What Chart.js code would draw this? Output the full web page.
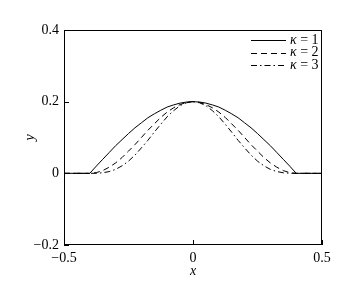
<!DOCTYPE html>
<html>
<head>
<meta charset="utf-8">
<script src="https://cdn.jsdelivr.net/npm/chart.js@4.4.1/dist/chart.umd.min.js"></script>
<style>
  html, body { margin: 0; padding: 0; background: #fff; }
  #wrap { width: 353px; height: 283px; }
</style>
</head>
<body>
<div id="wrap"><canvas id="profileChart"></canvas></div>
<script>
// x positions and profile heights
const xs = [-0.5, -0.4, -0.375, -0.35, -0.325, -0.3, -0.275, -0.25, -0.225, -0.2,
            -0.175, -0.15, -0.125, -0.1, -0.075, -0.05, -0.025, 0,
            0.025, 0.05, 0.075, 0.1, 0.125, 0.15, 0.175, 0.2,
            0.225, 0.25, 0.275, 0.3, 0.325, 0.35, 0.375, 0.4, 0.5];
const kappa1 = [0, 0, 0.020, 0.039, 0.058, 0.077, 0.094, 0.111, 0.127, 0.141,
                0.155, 0.166, 0.176, 0.185, 0.191, 0.196, 0.199, 0.2,
                0.199, 0.196, 0.191, 0.185, 0.176, 0.166, 0.155, 0.141,
                0.127, 0.111, 0.094, 0.077, 0.058, 0.039, 0.020, 0, 0];
const kappa2 = [0, 0, 0.0019, 0.0076, 0.017, 0.029, 0.044, 0.062, 0.080, 0.1,
                0.120, 0.138, 0.156, 0.171, 0.183, 0.192, 0.198, 0.2,
                0.198, 0.192, 0.183, 0.171, 0.156, 0.138, 0.120, 0.1,
                0.080, 0.062, 0.044, 0.029, 0.017, 0.0076, 0.0019, 0, 0];
const kappa3 = [0, 0, 0.0002, 0.0015, 0.0049, 0.011, 0.021, 0.034, 0.051, 0.071,
                0.092, 0.115, 0.137, 0.158, 0.175, 0.189, 0.197, 0.2,
                0.197, 0.189, 0.175, 0.158, 0.137, 0.115, 0.092, 0.071,
                0.051, 0.034, 0.021, 0.011, 0.0049, 0.0015, 0.0002, 0, 0];
const seriesNames = ['1', '2', '3'];
const xTicks = [-0.5, 0, 0.5];
const yTicks = [-0.2, 0, 0.2, 0.4];

const serif = "'Liberation Serif', 'DejaVu Serif', serif";
const dashes = [[], [6, 4], [6, 3, 1.5, 3]];

function toPoints(ys) {
    return xs.map((x, i) => ({ x: x, y: ys[i] }));
}

function fmt(v) {
    const s = Math.abs(v) < 1e-9 ? '0' : String(Number(v.toFixed(1)));
    return s.replace('-', '\u2212');
}

// frame, inward ticks and the legend
const framePlugin = {
    id: 'frame',
    afterDraw(chart) {
        const ctx = chart.ctx;
        const a = chart.chartArea;
        const xs_ = chart.scales.x, ys_ = chart.scales.y;
        ctx.save();
        ctx.strokeStyle = '#000';
        ctx.lineWidth = 1;
        ctx.setLineDash([]);
        ctx.strokeRect(a.left + 0.5, a.top + 0.5, a.right - a.left - 1, a.bottom - a.top - 1);
        ctx.beginPath();
        xTicks.forEach(v => {
            const px = Math.round(xs_.getPixelForValue(v)) + 0.5;
            ctx.moveTo(px, a.bottom);
            ctx.lineTo(px, a.bottom - 5);
        });
        yTicks.forEach(v => {
            const py = Math.round(ys_.getPixelForValue(v)) + 0.5;
            ctx.moveTo(a.left, py);
            ctx.lineTo(a.left + 5, py);
        });
        ctx.stroke();

        // legend
        const lx0 = a.right - 71, lx1 = a.right - 36, tx = a.right - 32;
        chart.data.datasets.forEach((ds, i) => {
            const y = a.top + 10 + i * 12.7;
            ctx.setLineDash(ds.borderDash || []);
            ctx.beginPath();
            ctx.moveTo(lx0, Math.round(y) + 0.5);
            ctx.lineTo(lx1, Math.round(y) + 0.5);
            ctx.stroke();
            ctx.setLineDash([]);
            ctx.fillStyle = '#000';
            ctx.textBaseline = 'middle';
            ctx.textAlign = 'left';
            ctx.font = 'italic 14px ' + serif;
            ctx.fillText('\u03ba', tx, y);
            const w = ctx.measureText('\u03ba').width;
            ctx.font = '14px ' + serif;
            ctx.fillText(' = ' + seriesNames[i], tx + w, y);
        });
        ctx.restore();
    }
};

new Chart(document.getElementById('profileChart'), {
    type: 'line',
    data: {
        datasets: [kappa1, kappa2, kappa3].map((ys, i) => ({
            label: '\u03ba = ' + seriesNames[i],
            data: toPoints(ys),
            borderColor: '#000',
            borderWidth: 1,
            borderDash: dashes[i],
            pointRadius: 0,
            tension: 0,
            fill: false
        }))
    },
    options: {
        responsive: true,
        maintainAspectRatio: false,
        animation: false,
        layout: { padding: { top: 30, right: 31, left: 0, bottom: 0 } },
        plugins: { legend: { display: false }, tooltip: { enabled: false } },
        scales: {
            x: {
                type: 'linear',
                min: -0.5,
                max: 0.5,
                afterBuildTicks: s => { s.ticks = xTicks.map(v => ({ value: v })); },
                afterFit: s => { s.height = 38; },
                grid: { display: false, drawTicks: false },
                border: { display: false },
                ticks: {
                    padding: 5,
                    color: '#000',
                    font: { family: serif, size: 14 },
                    maxRotation: 0,
                    callback: v => fmt(v)
                },
                title: {
                    display: true,
                    text: 'x',
                    color: '#000',
                    padding: { top: 0, bottom: 3 },
                    font: { family: serif, size: 14, style: 'italic' }
                }
            },
            y: {
                type: 'linear',
                min: -0.2,
                max: 0.4,
                afterBuildTicks: s => { s.ticks = yTicks.map(v => ({ value: v })); },
                afterFit: s => { s.width = 64; },
                grid: { display: false, drawTicks: false },
                border: { display: false },
                ticks: {
                    padding: 5,
                    color: '#000',
                    font: { family: serif, size: 14 },
                    callback: v => fmt(v)
                },
                title: {
                    display: true,
                    text: 'y',
                    color: '#000',
                    padding: { top: 22, bottom: 0 },
                    font: { family: serif, size: 14, style: 'italic' }
                }
            }
        }
    },
    plugins: [framePlugin]
});
</script>
</body>
</html>
